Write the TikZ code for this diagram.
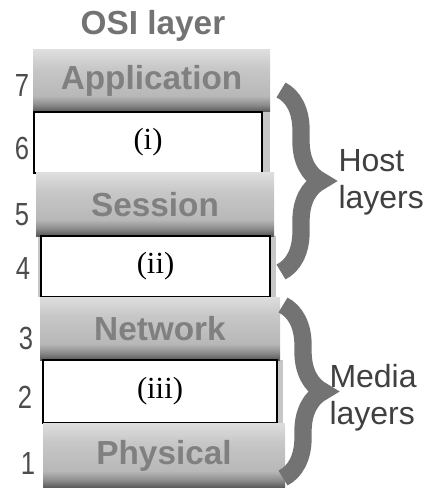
\documentclass[tikz,border=0pt]{standalone}
\usepackage{graphicx}
\usepackage{fontspec}
\setmainfont{Liberation Serif}
\setsansfont{Liberation Sans}
\usetikzlibrary{decorations.pathreplacing}

\pgfdeclareverticalshading{bandshade}{100bp}{color(0bp)=(black!66); color(25bp)=(black!66); color(31bp)=(black!45); color(38bp)=(black!28); color(60bp)=(black!22); color(75bp)=(black!13); color(100bp)=(black!13)}

\tikzset{every picture/.style={line width=0.75pt}}
\tikzset{
  layerband/.style={shade, shading=bandshade, inner sep=0pt, text=black!50, font=\sffamily\bfseries\fontsize{25}{25}\selectfont},
  layerbox/.style={draw=black, fill=white, line width=1.2pt, inner sep=0pt, font=\fontsize{23}{23}\selectfont},
  layernum/.style={inner sep=0pt, text=black!70, font=\sffamily\fontsize{24}{24}\selectfont},
  grouplabel/.style={inner sep=0pt, anchor=west, align=left, text=black!75, font=\sffamily\fontsize{24}{28}\selectfont},
  groupbrace/.style={decorate, decoration={brace, amplitude=30pt}, draw=black!55, line width=13pt},
}
\newcommand{\laynum}[1]{\scalebox{0.8}[1]{#1}}

\begin{document}
\begin{tikzpicture}[x=0.75pt,y=0.75pt,yscale=-1,xscale=1]
	\useasboundingbox (0,0) rectangle (431,488);
	
	% Title
	\node (title) at (153,26) [inner sep=0pt, text=black!55, font=\sffamily\bfseries\fontsize{25}{25}\selectfont] {OSI layer};
	
	%Shape: gray column behind the white rows
	\fill [black!22] (33,112) rectangle (270,173);
	\fill [black!22] (38,236) rectangle (276,297);
	\fill [black!22] (42,360) rectangle (283,423);
	
	% Layer rows
	\node (l7) at (151.5,81) [layerband, minimum width=177.75pt, minimum height=46.5pt] {Application};
	\node (l6) at (148,142.5) [layerbox, minimum width=171pt, minimum height=45.75pt] {(i)};
	\node (l5) at (155,204.5) [layerband, minimum width=178.5pt, minimum height=47.25pt] {Session};
	\node (l4) at (155.5,266.5) [layerbox, minimum width=171.75pt, minimum height=45.75pt] {(ii)};
	\node (l3) at (160,328.5) [layerband, minimum width=180pt, minimum height=47.25pt] {Network};
	\node (l2) at (160,391.5) [layerbox, minimum width=175.5pt, minimum height=47.25pt] {(iii)};
	\node (l1) at (164,455.5) [layerband, minimum width=181.5pt, minimum height=48.75pt] {Physical};
	
	% Layer numbers
	\node (n7) at (22,85) [layernum] {\laynum{7}};
	\node (n6) at (22,148) [layernum] {\laynum{6}};
	\node (n5) at (22,215) [layernum] {\laynum{5}};
	\node (n4) at (23,268) [layernum] {\laynum{4}};
	\node (n3) at (26,338) [layernum] {\laynum{3}};
	\node (n2) at (25,397) [layernum] {\laynum{2}};
	\node (n1) at (28,463) [layernum] {\laynum{1}};
	
	% Braces
	\coordinate (hosttop) at (281,90);
	\coordinate (hostbot) at (281,272);
	\coordinate (mediatop) at (283,305);
	\coordinate (mediabot) at (283,478);
	\draw [groupbrace] (hosttop) -- (hostbot);
	\draw [groupbrace] (mediatop) -- (mediabot);
	
	% Text Node
	\node (host) at (338,182) [grouplabel] {Host\\layers};
	% Text Node
	\node (media) at (329,398) [grouplabel] {Media\\layers};
	
\end{tikzpicture}
\end{document}
